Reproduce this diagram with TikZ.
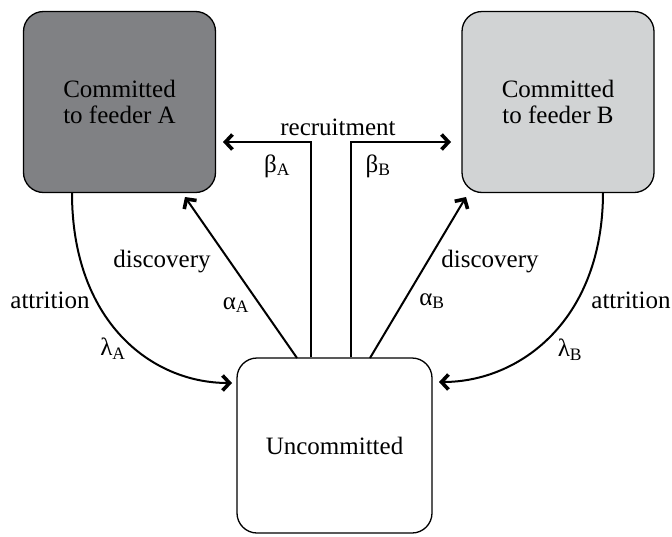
\documentclass[tikz,border=0pt]{standalone}
\usepackage{fontspec}
\setmainfont{Liberation Serif}
\usetikzlibrary{arrows.meta}

\definecolor{feederA}{RGB}{128,129,132}
\definecolor{feederB}{RGB}{209,211,212}

\begin{document}
\begin{tikzpicture}[x=1pt,y=-1pt,
    font=\fontsize{25}{26}\selectfont,
    state/.style={draw, line width=1.3pt, rounded corners=20pt,
      minimum width=192pt, minimum height=181pt, align=center},
    flow/.style={line width=2pt,
      -{Straight Barb[length=7pt,width=15pt,line width=3.6pt]}}]
      \useasboundingbox (0,0) rectangle (672,536);

      \node[state, fill=feederA] (A) at (119.5,102) {Committed\\to feeder A};
      \node[state, fill=feederB] (B) at (558,102) {Committed\\to feeder B};
      \node[state, minimum width=195pt, minimum height=175pt] (U) at (334.5,445.5) {Uncommitted};

      % recruitment
      \coordinate (rA) at (311,142);
      \coordinate (rB) at (351,142);
      \coordinate (tipRA) at (223,142);
      \coordinate (tipRB) at (451,142);
      \draw[flow] (rA |- U.north) -- (rA) -- (tipRA);
      \draw[flow] (rB |- U.north) -- (rB) -- (tipRB);
      \node (rec) at (338,127) {recruitment};
      \node (bA) at (277,166) {β\textsubscript{A}};
      \node (bB) at (378,166) {β\textsubscript{B}};

      % discovery
      \coordinate (dA) at (297,358);
      \coordinate (dB) at (370,358);
      \coordinate (tipDA) at (185,197);
      \coordinate (tipDB) at (466,197);
      \draw[flow] (dA) -- (tipDA);
      \draw[flow] (dB) -- (tipDB);
      \node (discA) at (162,262) {discovery};
      \node (discB) at (490,262) {discovery};
      \node (aA) at (236,305) {α\textsubscript{A}};
      \node (aB) at (432,301) {α\textsubscript{B}};

      % attrition
      \coordinate (lA) at (72,193);
      \coordinate (lB) at (603,192);
      \coordinate (tipLA) at (232,383);
      \coordinate (tipLB) at (439,382);
      \draw[flow] (lA) .. controls (72,320) and (150,383) .. (tipLA);
      \draw[flow] (lB) .. controls (603,320) and (520,382) .. (tipLB);
      \node (attA) at (50,300) {attrition};
      \node (attB) at (631,300) {attrition};
      \node (lamA) at (113,349) {λ\textsubscript{A}};
      \node (lamB) at (570,350) {λ\textsubscript{B}};
\end{tikzpicture}
\end{document}
